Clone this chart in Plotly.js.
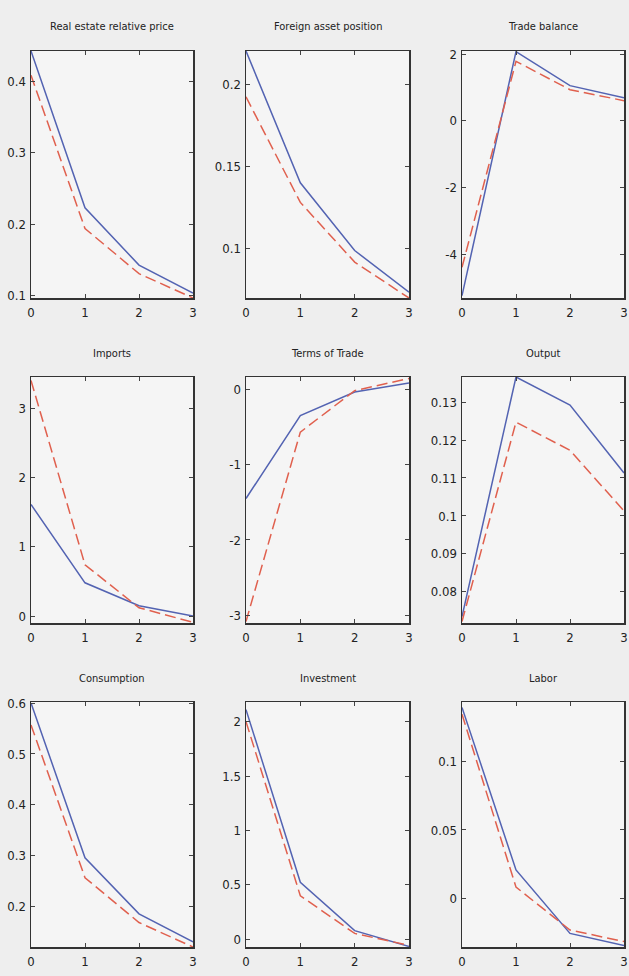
<!DOCTYPE html>
<html>
<head>
<meta charset="utf-8">
<script src="https://cdn.plot.ly/plotly-3.0.1.min.js"></script>
<style>
  html, body { margin: 0; padding: 0; background: #eeeeee; }
  #chart { width: 629px; height: 976px; }
</style>
</head>
<body>
<div id="chart"></div>
<script>
// ---- data ----
const periods = [0, 1, 2, 3];
const xTicks = [0, 1, 2, 3];

const titles = [
  "Real estate relative price", "Foreign asset position", "Trade balance",
  "Imports", "Terms of Trade", "Output",
  "Consumption", "Investment", "Labor"
];

// solid blue series
const realEstateBlue = [0.442, 0.223, 0.143, 0.104];
const foreignAssetBlue = [0.2208, 0.140, 0.0985, 0.073];
const tradeBalanceBlue = [-5.25, 2.07, 1.05, 0.69];
const importsBlue = [1.61, 0.48, 0.15, 0.0];
const termsOfTradeBlue = [-1.45, -0.35, -0.04, 0.08];
const outputBlue = [0.0735, 0.1366, 0.1292, 0.1113];
const consumptionBlue = [0.600, 0.296, 0.186, 0.131];
const investmentBlue = [2.11, 0.525, 0.08, -0.065];
const laborBlue = [0.140, 0.0206, -0.026, -0.035];

// dashed red series
const realEstateRed = [0.408, 0.194, 0.131, 0.097];
const foreignAssetRed = [0.1927, 0.128, 0.0914, 0.0694];
const tradeBalanceRed = [-4.4, 1.78, 0.93, 0.60];
const importsRed = [3.40, 0.74, 0.12, -0.09];
const termsOfTradeRed = [-3.08, -0.57, -0.02, 0.14];
const outputRed = [0.0722, 0.1247, 0.1173, 0.1013];
const consumptionRed = [0.557, 0.257, 0.169, 0.121];
const investmentRed = [2.00, 0.40, 0.055, -0.055];
const laborRed = [0.135, 0.008, -0.0235, -0.032];

// y tick labels
const realEstateTicks = [0.1, 0.2, 0.3, 0.4];
const foreignAssetTicks = [0.1, 0.15, 0.2];
const tradeBalanceTicks = [-4, -2, 0, 2];
const importsTicks = [0, 1, 2, 3];
const termsOfTradeTicks = [-3, -2, -1, 0];
const outputTicks = [0.08, 0.09, 0.1, 0.11, 0.12, 0.13];
const consumptionTicks = [0.2, 0.3, 0.4, 0.5, 0.6];
const investmentTicks = [0, 0.5, 1, 1.5, 2];
const laborTicks = [0, 0.05, 0.1];

// y axis limits
const realEstateLim = [0.097, 0.442];
const foreignAssetLim = [0.0694, 0.2208];
const tradeBalanceLim = [-5.32, 2.09];
const importsLim = [-0.1, 3.45];
const termsOfTradeLim = [-3.1, 0.16];
const outputLim = [0.0718, 0.1366];
const consumptionLim = [0.121, 0.602];
const investmentLim = [-0.07, 2.18];
const laborLim = [-0.036, 0.144];

const blueSeries = [realEstateBlue, foreignAssetBlue, tradeBalanceBlue, importsBlue, termsOfTradeBlue, outputBlue, consumptionBlue, investmentBlue, laborBlue];
const redSeries = [realEstateRed, foreignAssetRed, tradeBalanceRed, importsRed, termsOfTradeRed, outputRed, consumptionRed, investmentRed, laborRed];
const yTicks = [realEstateTicks, foreignAssetTicks, tradeBalanceTicks, importsTicks, termsOfTradeTicks, outputTicks, consumptionTicks, investmentTicks, laborTicks];
const yLims = [realEstateLim, foreignAssetLim, tradeBalanceLim, importsLim, termsOfTradeLim, outputLim, consumptionLim, investmentLim, laborLim];

// ---- layout geometry (pixels) ----
const W = 629, H = 976;
const cols = [[31, 193], [246, 409], [462, 624]];
const rows = [[51, 298], [377, 623], [702, 947]];
const titleY = [27, 353, 678];

const FONT = "'Liberation Sans Narrow', 'Arial Narrow', 'DejaVu Sans Condensed', 'Liberation Sans', sans-serif";
const BLUE = "#5363b2";
const RED = "#e0604e";

const traces = [];
const layout = {
  width: W, height: H,
  margin: {l: 0, r: 0, t: 0, b: 0},
  paper_bgcolor: "#eeeeee",
  plot_bgcolor: "#f5f5f5",
  showlegend: false,
  font: {family: FONT, size: 12, color: "#222"},
  annotations: []
};

for (let i = 0; i < 9; i++) {
  const r = Math.floor(i / 3), c = i % 3;
  const n = i + 1;
  const xa = n === 1 ? "x" : "x" + n;
  const ya = n === 1 ? "y" : "y" + n;
  traces.push({
    x: periods, y: blueSeries[i], xaxis: xa, yaxis: ya,
    mode: "lines", line: {color: BLUE, width: 1.5}, hoverinfo: "skip"
  });
  traces.push({
    x: periods, y: redSeries[i], xaxis: xa, yaxis: ya,
    mode: "lines", line: {color: RED, width: 1.5, dash: "11px,5px"}, hoverinfo: "skip"
  });
  const axCommon = {
    showline: true, linecolor: "#333", linewidth: 1.5, mirror: "ticks",
    ticks: "inside", ticklen: 4, tickcolor: "#444", tickwidth: 1,
    showgrid: false, zeroline: false, fixedrange: true,
    tickfont: {family: FONT, size: 13, color: "#222"}
  };
  layout[n === 1 ? "xaxis" : "xaxis" + n] = Object.assign({}, axCommon, {
    domain: [cols[c][0] / W, cols[c][1] / W],
    anchor: ya, range: [0, 3],
    tickmode: "array", tickvals: xTicks, ticktext: xTicks.map(String),
    ticklabelstandoff: 2
  });
  layout[n === 1 ? "yaxis" : "yaxis" + n] = Object.assign({}, axCommon, {
    domain: [1 - rows[r][1] / H, 1 - rows[r][0] / H],
    anchor: xa, range: yLims[i],
    tickmode: "array", tickvals: yTicks[i], ticktext: yTicks[i].map(String),
    ticklabelstandoff: 1
  });
  layout.annotations.push({
    text: titles[i], xref: "paper", yref: "paper",
    x: (cols[c][0] + cols[c][1]) / 2 / W, y: 1 - titleY[r] / H,
    xanchor: "center", yanchor: "middle", showarrow: false,
    font: {family: FONT, size: 11, color: "#222"}
  });
}

Plotly.newPlot("chart", traces, layout, {displayModeBar: false, staticPlot: true});
</script>
</body>
</html>
